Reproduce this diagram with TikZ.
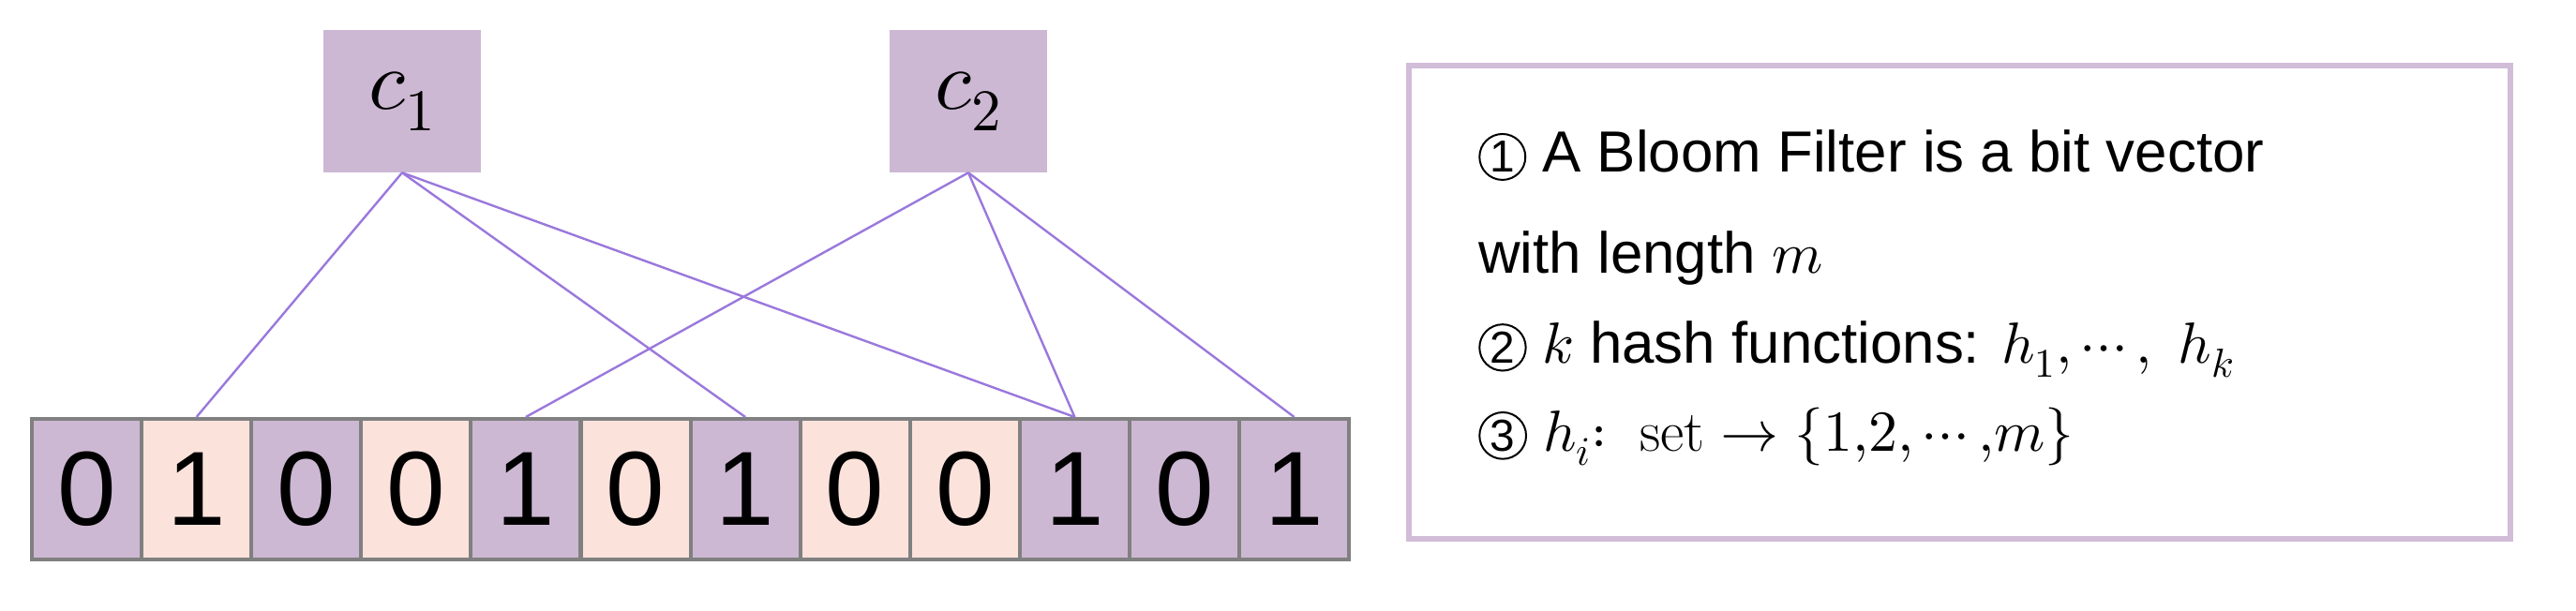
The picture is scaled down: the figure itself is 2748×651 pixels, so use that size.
\documentclass[tikz,border=0pt]{standalone}
\usepackage{fontspec}
\usepackage{unicode-math}
\setmainfont{Liberation Sans}
\setmathrm{Latin Modern Roman}
\newcommand{\circnum}[1]{\tikz[baseline=(n.base)]\node[draw,circle,line width=0.5mm,inner sep=0.6mm,font=\fontsize{34}{34}\selectfont] (n) {#1};}
\definecolor{pur}{HTML}{CDB8D3}
\definecolor{pch}{HTML}{FBE3DC}
\definecolor{lnk}{HTML}{9A78DC}
\definecolor{bx}{HTML}{D2BDD8}
\begin{document}
\begin{tikzpicture}[x=0.25mm,y=-0.25mm,
 cell/.style={draw=gray,line width=1mm,minimum width=117*0.25mm,minimum height=150*0.25mm,inner sep=0,anchor=north west,font=\fontsize{80}{80}\selectfont},
 key/.style={fill=pur,minimum width=168*0.25mm,minimum height=152*0.25mm,inner sep=0,font=\fontsize{64}{64}\selectfont},
 link/.style={draw=lnk,line width=0.6mm},
 txt/.style={anchor=west,inner sep=0,font=\fontsize{44}{44}\selectfont}]
\useasboundingbox (0,0) rectangle (2748,651);
\def\bits{0,1,0,0,1,0,1,0,0,1,0,1}
\foreach \b [count=\i from 0] in \bits {
  \pgfmathsetmacro{\xx}{32+117.1*\i}
  \ifodd\i \def\fc{pch}\else\def\fc{pur}\fi
  \ifnum\i=3 \def\fc{pch}\fi
  \ifnum\i=4 \def\fc{pur}\fi
  \ifnum\i=8 \def\fc{pch}\fi
  \ifnum\i=9 \def\fc{pur}\fi
  \ifnum\i=11 \def\fc{pur}\fi
  \node[cell,fill=\fc] (b\i) at (\xx,445) {\b};
}
\node[key] (c1) at (429,108) {$c_1$};
\node[key] (c2) at (1033,108) {$c_2$};
\foreach \t in {1,6,9} \draw[link] (c1.south) -- (b\t.north);
\foreach \t in {4,9,11} \draw[link] (c2.south) -- (b\t.north);
\node[draw=bx,line width=1.5mm,minimum width=1175*0.25mm,minimum height=505*0.25mm,anchor=north west] (box) at (1500,67) {};
\node[txt] (t1) at (1577,166) {\circnum{1} A Bloom Filter is a bit vector};
\node[txt] (t2) at (1577,276) {with length $m$};
\node[txt] (t3) at (1577,373) {\circnum{2} $k$ hash functions: $h_1,\cdots,\ h_k$};
\node[txt] (t4) at (1577,466) {\circnum{3} $h_i\mathrm{:\ set}\rightarrow\{1{,}2{,}\cdots{,}m\}$};
\end{tikzpicture}
\end{document}
